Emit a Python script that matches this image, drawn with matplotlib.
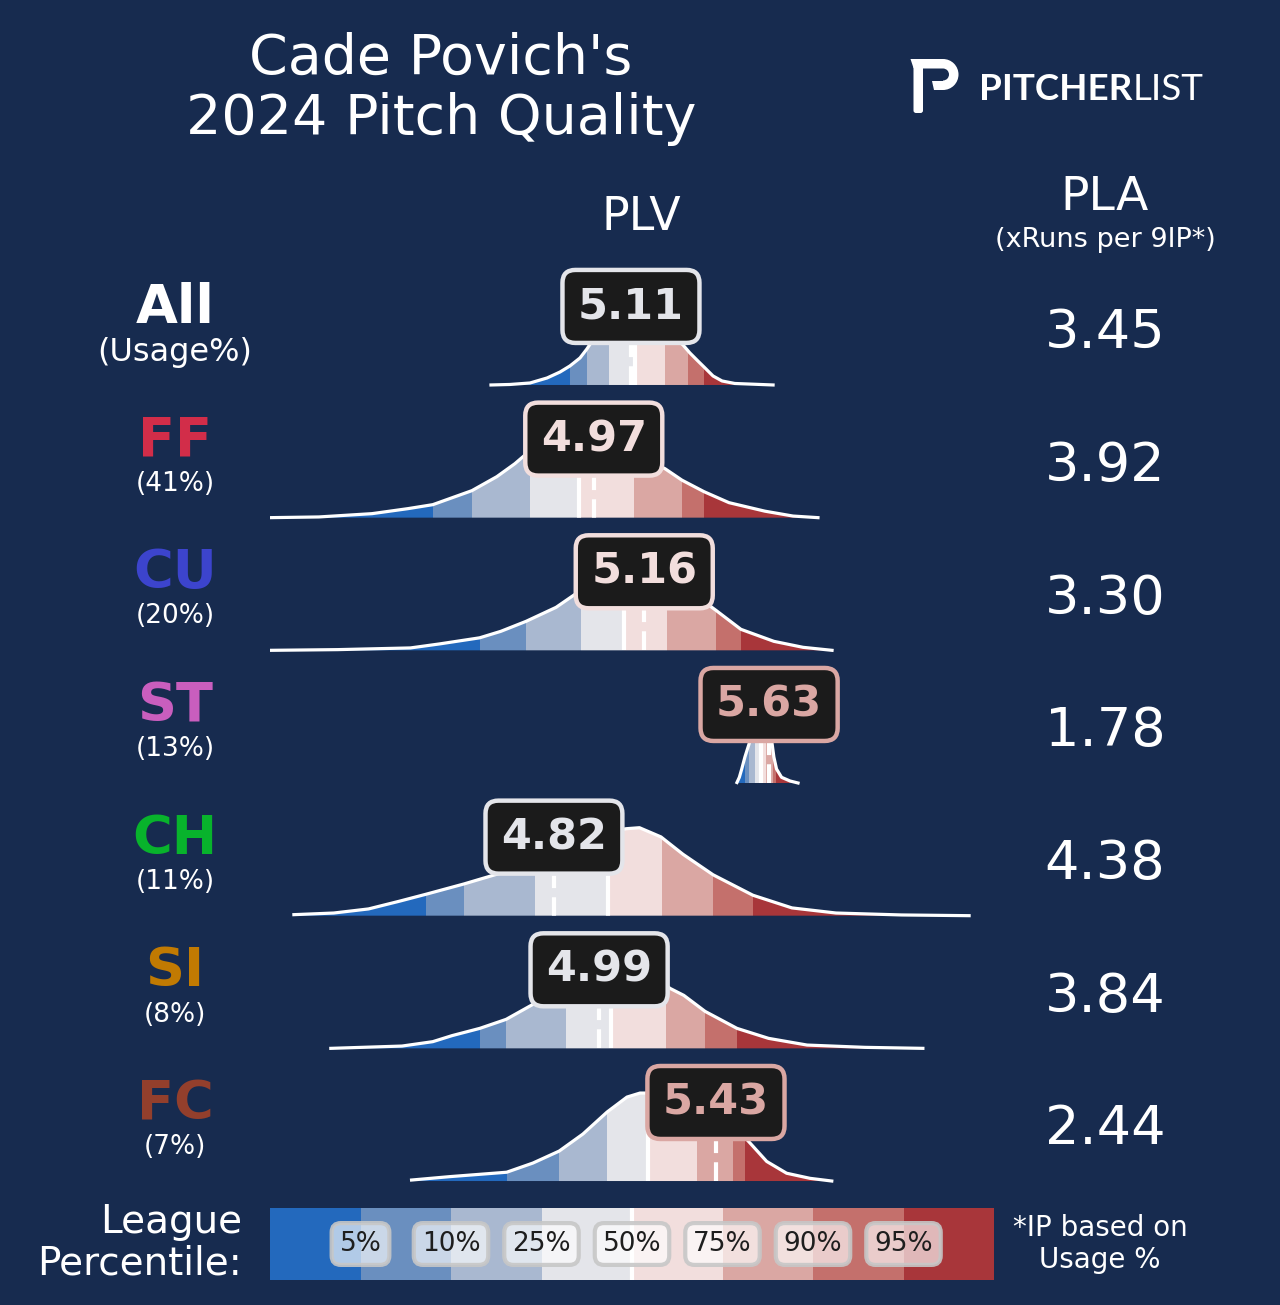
import numpy as np
import matplotlib
matplotlib.use('Agg')
import matplotlib.pyplot as plt
from matplotlib import transforms
from matplotlib.patches import Polygon, Wedge, FancyBboxPatch

# ------------------------------------------------------------
# DATA
# ------------------------------------------------------------
pitches = ['All', 'FF', 'CU', 'ST', 'CH', 'SI', 'FC']
usage = ['(Usage%)', '(41%)', '(20%)', '(13%)', '(11%)', '(8%)', '(7%)']
pitch_colors = ['white', '#D22D49', '#3C44CD', '#C95EBE', '#08B32C', '#C17A02', '#933F2C']
plv = [5.11, 4.97, 5.16, 5.63, 4.82, 4.99, 5.43]
pla = [3.45, 3.92, 3.30, 1.78, 4.38, 3.84, 2.44]

pct_labels = ['5%', '10%', '25%', '50%', '75%', '90%', '95%']

# league percentile cut points (5, 10, 25, 50, 75, 90, 95) per pitch type
cuts_all = [4.880, 4.944, 5.027, 5.125, 5.238, 5.325, 5.385]
cuts_ff = [4.364, 4.511, 4.730, 4.914, 5.121, 5.302, 5.385]
cuts_cu = [4.540, 4.715, 4.920, 5.084, 5.245, 5.430, 5.524]
cuts_st = [5.539, 5.554, 5.577, 5.599, 5.618, 5.644, 5.656]
cuts_ch = [4.339, 4.481, 4.747, 5.023, 5.227, 5.419, 5.569]
cuts_si = [4.541, 4.640, 4.865, 5.033, 5.243, 5.389, 5.509]
cuts_fc = [4.642, 4.840, 5.018, 5.175, 5.357, 5.495, 5.539]

# league PLV density outlines (x = PLV, d = relative density)
kde_x_all = [4.583, 4.654, 4.730, 4.794, 4.843, 4.880, 4.918, 4.944, 4.974, 5.012, 5.050, 5.099,
             5.144, 5.200, 5.249, 5.279, 5.306, 5.332, 5.362, 5.385, 5.419, 5.453, 5.501, 5.645]
kde_d_all = [0, 0.5, 2, 7, 13, 19, 27, 36, 48, 66, 80, 88, 86, 75, 58, 46, 40, 32, 24, 18, 9, 4, 1.5, 0]

kde_x_ff = [3.751, 3.935, 4.135, 4.270, 4.364, 4.511, 4.605, 4.673, 4.730, 4.786, 4.843, 4.918,
            4.993, 5.068, 5.144, 5.200, 5.238, 5.302, 5.385, 5.479, 5.614, 5.720, 5.814]
kde_d_ff = [0, 0.7, 4, 9, 13, 27, 41, 54, 67, 76, 84, 88, 85, 75, 62, 54, 49, 37.5, 26, 15, 6.5, 1.6, 0]

kde_x_cu = [3.753, 4.006, 4.280, 4.389, 4.540, 4.620, 4.715, 4.828, 4.910, 4.993, 5.068, 5.144,
            5.219, 5.332, 5.389, 5.430, 5.524, 5.648, 5.758, 5.867]
kde_d_cu = [0, 0.7, 2.4, 6.4, 12.5, 19, 29, 43, 58, 75, 85, 88, 82, 62, 48, 40, 21, 9, 3, 0]

kde_x_st = [5.509, 5.518, 5.527, 5.539, 5.558, 5.573, 5.588, 5.603, 5.618, 5.629, 5.640, 5.648,
            5.658, 5.677, 5.709, 5.739]
kde_d_st = [0.5, 5.7, 14, 26, 42, 70, 85, 88, 75, 58, 42, 26, 14, 5.7, 2, 0]

kde_x_ch = [3.841, 3.991, 4.122, 4.236, 4.339, 4.481, 4.598, 4.654, 4.730, 4.805, 4.880, 4.956,
            5.031, 5.091, 5.142, 5.223, 5.306, 5.419, 5.569, 5.716, 5.882, 6.129, 6.383]
kde_d_ch = [1, 2.6, 6.6, 14, 21, 31, 40, 44, 51, 60, 68, 76, 82, 85, 86, 77, 60, 40, 20, 7.6, 2.6, 0.7, 0]

kde_x_si = [3.980, 4.248, 4.364, 4.436, 4.541, 4.640, 4.741, 4.786, 4.843, 4.918, 4.993, 5.068,
            5.144, 5.200, 5.257, 5.309, 5.389, 5.509, 5.628, 5.773, 5.991, 6.209]
kde_d_si = [0, 2.3, 6.7, 12.7, 20, 29, 44, 50, 60, 72, 82, 88, 84, 72, 60, 53, 37, 20, 10, 3.3, 1, 0]

kde_x_fc = [4.284, 4.428, 4.642, 4.741, 4.840, 4.929, 5.020, 5.095, 5.144, 5.174, 5.219, 5.294,
            5.370, 5.445, 5.501, 5.546, 5.621, 5.696, 5.784, 5.866]
kde_d_fc = [1, 4.4, 8.8, 18, 30, 47, 69, 84, 88, 88, 86, 78, 66, 54, 47, 41.6, 19.6, 7.8, 2.7, 0]

cuts = [cuts_all, cuts_ff, cuts_cu, cuts_st, cuts_ch, cuts_si, cuts_fc]
kde_x = [kde_x_all, kde_x_ff, kde_x_cu, kde_x_st, kde_x_ch, kde_x_si, kde_x_fc]
kde_d = [kde_d_all, kde_d_ff, kde_d_cu, kde_d_st, kde_d_ch, kde_d_si, kde_d_fc]

# ------------------------------------------------------------
# STYLE
# ------------------------------------------------------------
BG = '#172B4F'
BAND_COLORS = ['#2369BD', '#6A8FBF', '#A9B8D0', '#E4E5EA',
               '#F2DEDD', '#DAA7A3', '#C4706C', '#A8363A']
W, H = 1280, 1305
RIDGE_H = 0.663      # peak height in row units
BOX_Y = 0.592        # label box centre above baseline

plt.rcParams['font.family'] = ['DejaVu Sans']
fig = plt.figure(figsize=(W / 100, H / 100), dpi=100, facecolor=BG)

def fx(px):
    return px / W

def fy(px):
    return 1 - px / H

# ridge axes: x in PLV, row i baseline at y = -i
ax = fig.add_axes([fx(270), fy(1273.9), fx(723), (1273.9 - 252.3) / H])
ax.set_xlim(3.751, 6.473)
ax.set_ylim(-6.7, 1.0)
ax.axis('off')
ax.patch.set_alpha(0)

left_tr = transforms.blended_transform_factory(fig.transFigure, ax.transData)

for i, name in enumerate(pitches):
    xs = np.array(kde_x[i])
    ds = np.array(kde_d[i], dtype=float)
    ys = -i + ds / ds.max() * RIDGE_H
    verts = np.vstack([np.column_stack([xs, ys]),
                       np.column_stack([xs[::-1], np.full(len(xs), -i)])])
    clip = Polygon(verts, closed=True, fc='none', ec='none')
    ax.add_patch(clip)

    edges = [xs.min()] + list(cuts[i]) + [xs.max()]
    for j in range(8):
        band = ax.axvspan(edges[j], edges[j + 1], color=BAND_COLORS[j], lw=0, zorder=2)
        band.set_clip_path(clip)

    med, = ax.plot([cuts[i][3]] * 2, [-i, -i + RIDGE_H], color='white', lw=3, zorder=3,
                   solid_capstyle='butt')
    med.set_clip_path(clip)
    val, = ax.plot([plv[i]] * 2, [-i, -i + RIDGE_H], color='white', lw=3, zorder=3,
                   linestyle=(0, (4.5, 2.2)), dash_capstyle='butt')
    val.set_clip_path(clip)

    ax.plot(xs, ys, color='white', lw=2.3, zorder=4, solid_joinstyle='round')

    # percentile colour of the pitcher value
    band_idx = int(np.searchsorted(cuts[i], plv[i]))
    c = BAND_COLORS[band_idx]
    ax.text(plv[i], -i + BOX_Y, f'{plv[i]:.2f}', ha='center', va='center',
            fontsize=31, fontweight='bold', color=c, zorder=10,
            bbox=dict(boxstyle='round,pad=0.36,rounding_size=0.3', fc='#1B1B1B', ec=c, lw=3.2))

    # left labels
    ax.text(fx(175), -i + 0.58, name, transform=left_tr, ha='center', va='center',
            fontsize=39, fontweight='bold', color=pitch_colors[i])
    ax.text(fx(175), -i + (0.245 if i == 0 else 0.255), usage[i], transform=left_tr,
            ha='center', va='center', fontsize=23 if i == 0 else 19, color='white')
    # PLA column
    ax.text(fx(1105), -i + 0.39, f'{pla[i]:.2f}', transform=left_tr, ha='center',
            va='center', fontsize=39, color='white')

# ------------------------------------------------------------
# HEADERS
# ------------------------------------------------------------
fig.text(fx(441), fy(89), "Cade Povich's\n2024 Pitch Quality", ha='center', va='center',
         fontsize=40, color='white', linespacing=1.13)
fig.text(fx(641), fy(218), 'PLV', ha='center', va='center', fontsize=33, color='white')
fig.text(fx(1105), fy(198), 'PLA', ha='center', va='center', fontsize=34, color='white')
fig.text(fx(1105), fy(240), '(xRuns per 9IP*)', ha='center', va='center', fontsize=19.5,
         color='white')

# ------------------------------------------------------------
# LOGO
# ------------------------------------------------------------
lax = fig.add_axes([fx(905), fy(118), fx(60), 63 / H])
lax.set_xlim(0, 60)
lax.set_ylim(63, 0)
lax.axis('off')
lax.patch.set_alpha(0)
lax.add_patch(FancyBboxPatch((8.5, 8), 9.5, 50, boxstyle='round,pad=0,rounding_size=2.5',
                             fc='white', ec='none'))
lax.add_patch(Polygon([(5.5, 4), (38, 4), (38, 13.5), (18, 13.5), (18, 16), (8.5, 13)],
                      closed=True, fc='white', ec='none'))
lax.add_patch(Wedge((38, 19.5), 15.5, -90, 90, width=9.5, fc='white', ec='none'))
lax.add_patch(Polygon([(27, 25.5), (38, 25.5), (38, 35), (29, 35)], closed=True,
                      fc='white', ec='none'))

t1 = fig.text(fx(979), fy(89), 'PITCHER', ha='left', va='center', fontsize=26.5,
              fontweight='bold', color='white', family=['Lato', 'DejaVu Sans'])
lax.annotate('LIST', xy=(1, 0.5), xycoords=t1, ha='left', va='center', fontsize=26.5,
             fontweight='normal', color='white', family=['Lato', 'DejaVu Sans'],
             annotation_clip=False)

# ------------------------------------------------------------
# LEGEND
# ------------------------------------------------------------
gax = fig.add_axes([fx(270), fy(1280), fx(724), 72 / H])
gax.set_xlim(0, 8)
gax.set_ylim(0, 1)
gax.axis('off')
gax.bar(np.arange(8) + 0.5, 1, width=1, color=BAND_COLORS, linewidth=0)
gax.plot([4, 4], [0, 1], color='white', lw=3)
for k, lab in enumerate(pct_labels):
    gax.text(k + 1, 0.5, lab, ha='center', va='center', fontsize=19, color='#1E1E1E',
             bbox=dict(boxstyle='round,pad=0.3,rounding_size=0.35', fc=(1, 1, 1, 0.65),
                       ec=(0.78, 0.78, 0.78, 0.9), lw=3))

fig.text(fx(242), fy(1243), 'League\nPercentile:', ha='right', va='center', fontsize=28,
         color='white', linespacing=1.12, multialignment='right')
fig.text(fx(1100), fy(1244), '*IP based on\nUsage %', ha='center', va='center',
         fontsize=20, color='white', linespacing=1.15)

fig.savefig('out.png', dpi=100, facecolor=BG)
